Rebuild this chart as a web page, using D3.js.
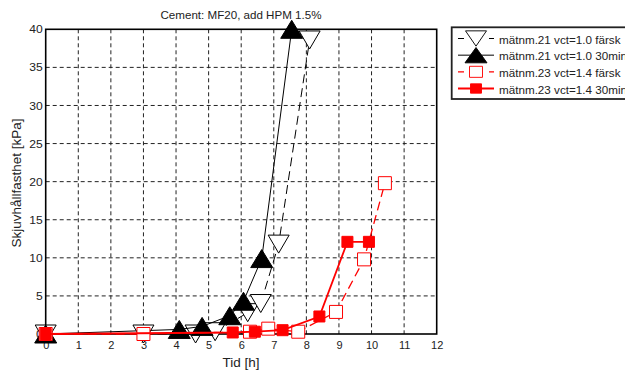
<!DOCTYPE html>
<html>
<head>
<meta charset="utf-8">
<script src="https://cdn.jsdelivr.net/npm/d3@7"></script>
<style>
  body { margin: 0; background: #fff; }
  svg { font-family: "Liberation Sans", Arial, sans-serif; }
</style>
</head>
<body>
<svg id="chart" width="625" height="370"></svg>
<script>
// data
const xTicks = [0, 1, 2, 3, 4, 5, 6, 7, 8, 9, 10, 11, 12];
const yTicks = [0, 5, 10, 15, 20, 25, 30, 35, 40];

const m21farskX = [0, 3, 4.6, 5.2, 6.2, 6.6, 7.15, 8.1];
const m21farskY = [0, 0, 0, 0.3, 2.8, 4.0, 11.8, 38.6];

const m21minX = [0, 4.1, 4.8, 5.65, 6.07, 6.63, 7.55];
const m21minY = [0, 0.6, 1.0, 2.4, 4.3, 9.9, 40];

const m23farskX = [0, 3, 6.27, 6.83, 7.75, 8.91, 9.77, 10.41];
const m23farskY = [0, 0, 0.3, 0.7, 0.3, 2.9, 9.8, 19.8];

const m23minX = [0, 5.74, 6.42, 7.27, 8.4, 9.26, 9.92];
const m23minY = [0, 0.2, 0.3, 0.5, 2.3, 12.1, 12.1];

const seriesNames = [
  "mätnm.21 vct=1.0 färsk",
  "mätnm.21 vct=1.0 30min",
  "mätnm.23 vct=1.4 färsk",
  "mätnm.23 vct=1.4 30min"
];

const svg = d3.select("#chart");
const plotLeft = 45.7, plotRight = 436.7, plotTop = 29.3, plotBottom = 334;

const x = d3.scaleLinear().domain([0, 12]).range([plotLeft, plotRight]);
const y = d3.scaleLinear().domain([0, 40]).range([plotBottom, plotTop]);

// text in the reference is a bit wider than Liberation Sans
function stretch(sel, f) {
  sel.each(function () {
    const w = this.getComputedTextLength();
    d3.select(this).attr("textLength", w * f).attr("lengthAdjust", "spacingAndGlyphs");
  });
}

// grid
const grid = svg.append("g");
grid.selectAll(".vg")
  .data(xTicks.slice(1, -1))
  .join("line")
  .attr("x1", d => x(d)).attr("x2", d => x(d))
  .attr("y1", plotTop).attr("y2", plotBottom)
  .attr("stroke", "#222").attr("stroke-width", 1)
  .attr("stroke-dasharray", "4,3");
grid.selectAll(".hg")
  .data(yTicks.slice(1, -1))
  .join("line")
  .attr("y1", d => y(d)).attr("y2", d => y(d))
  .attr("x1", plotLeft).attr("x2", plotRight)
  .attr("stroke", "#222").attr("stroke-width", 1)
  .attr("stroke-dasharray", "4,3");

// axes
svg.append("g")
  .attr("transform", `translate(0,${plotBottom})`)
  .call(d3.axisBottom(x).tickValues(xTicks).tickSize(0).tickPadding(7))
  .call(g => g.select(".domain").remove())
  .call(g => g.selectAll("text").attr("font-size", 11).attr("fill", "#222")
    .attr("font-family", "Liberation Sans, Arial, sans-serif"));

svg.append("g")
  .attr("transform", `translate(${plotLeft},0)`)
  .call(d3.axisLeft(y).tickValues(yTicks).tickSize(0).tickPadding(3))
  .call(g => g.select(".domain").remove())
  .call(g => g.selectAll("text").attr("font-size", 11).attr("fill", "#222")
    .attr("font-family", "Liberation Sans, Arial, sans-serif")
    .call(stretch, 1.1));

svg.append("rect")
  .attr("x", plotLeft).attr("y", plotTop)
  .attr("width", plotRight - plotLeft).attr("height", plotBottom - plotTop)
  .attr("fill", "none").attr("stroke", "#000").attr("stroke-width", 1.6);

// labels
svg.append("text")
  .attr("x", 241).attr("y", 18.5)
  .attr("text-anchor", "middle").attr("font-size", 11).attr("fill", "#222")
  .attr("textLength", 161).attr("lengthAdjust", "spacingAndGlyphs")
  .text("Cement: MF20, add HPM 1.5%");
svg.append("text")
  .attr("x", 241).attr("y", 366.5)
  .attr("text-anchor", "middle").attr("font-size", 13.5).attr("fill", "#222")
  .text("Tid [h]");
svg.append("text")
  .attr("transform", "translate(21,183) rotate(-90)")
  .attr("text-anchor", "middle").attr("font-size", 13.5).attr("fill", "#222")
  .text("Skjuvhållfasthet [kPa]");

// marker shapes
const triDown = (w, h) => `M${-w / 2},${-h / 2}L${w / 2},${-h / 2}L0,${h / 2}Z`;
const triUp = (w, h) => `M${-w / 2},${h / 2}L${w / 2},${h / 2}L0,${-h / 2}Z`;
const square = s => `M${-s / 2},${-s / 2}h${s}v${s}h${-s}Z`;

const series = [
  { xs: m21farskX, ys: m21farskY, color: "#000", dash: "9,5", lw: 1, shape: triDown(21, 18), fill: "#fff" },
  { xs: m21minX, ys: m21minY, color: "#000", dash: null, lw: 1, shape: triUp(22, 18), fill: "#000" },
  { xs: m23farskX, ys: m23farskY, color: "#f00", dash: "9,5", lw: 1.3, shape: square(13), fill: "#fff" },
  { xs: m23minX, ys: m23minY, color: "#f00", dash: null, lw: 1.8, shape: square(11), fill: "#f00" }
];

const line = d3.line().x(d => x(d[0])).y(d => y(d[1]));

series.forEach(s => {
  const pts = s.xs.map((v, i) => [v, s.ys[i]]);
  const g = svg.append("g");
  g.append("path")
    .attr("d", line(pts))
    .attr("fill", "none")
    .attr("stroke", s.color)
    .attr("stroke-width", s.lw)
    .attr("stroke-dasharray", s.dash);
  g.selectAll("path.mk")
    .data(pts)
    .join("path")
    .attr("class", "mk")
    .attr("d", s.shape)
    .attr("transform", d => `translate(${x(d[0])},${y(d[1])})`)
    .attr("fill", s.fill)
    .attr("stroke", s.color)
    .attr("stroke-width", 1);
});

// legend
const legend = svg.append("g");
legend.append("rect")
  .attr("x", 451.7).attr("y", 27.3)
  .attr("width", 200).attr("height", 71.7)
  .attr("fill", "#fff").attr("stroke", "#222").attr("stroke-width", 1.8);

const legY = d3.scalePoint().domain(seriesNames).range([38.5, 88.5]);

seriesNames.forEach((name, i) => {
  const s = series[i];
  const ly = legY(name);
  legend.append("line")
    .attr("x1", 458).attr("x2", 494).attr("y1", ly).attr("y2", ly)
    .attr("stroke", s.color).attr("stroke-width", s.lw)
    .attr("stroke-dasharray", s.dash ? "6,25,6" : null);
  legend.append("path")
    .attr("d", s.shape)
    .attr("transform", `translate(476,${ly}) scale(1,0.85)`)
    .attr("fill", s.fill).attr("stroke", s.color).attr("stroke-width", 1);
  legend.append("text")
    .attr("x", 499).attr("y", ly + 5)
    .attr("font-size", 11).attr("fill", "#222")
    .text(name)
    .call(stretch, 1.06);
});
</script>
</body>
</html>
